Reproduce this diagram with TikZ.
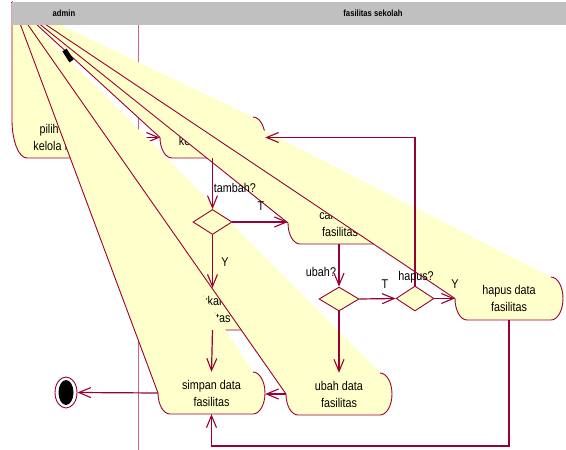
\documentclass[tikz,border=0pt]{standalone}
\usepackage{fontspec}
\setmainfont{Liberation Sans}
\newfontfamily\rosefont[FakeStretch=0.85]{Liberation Sans}
\usetikzlibrary{arrows.meta,shapes.geometric,calc}
\definecolor{rosered}{RGB}{153,0,51}
\definecolor{roseyel}{RGB}{255,255,204}
\definecolor{roselane}{RGB}{200,100,140}
\definecolor{rosehead}{RGB}{192,192,192}
\tikzset{
  actfill/.style={fill=roseyel},
  actline/.style={draw=rosered, line width=0.9pt, line join=round},
  acttext/.style={inner sep=0pt, align=center, font=\rosefont\fontsize{12.7}{17}\selectfont, text=black},
  flow/.style={draw=rosered, line width=1.2pt, -{Straight Barb[length=12pt,width=10pt,line width=1.1pt]}},
  dec/.style={diamond, draw=rosered, fill=roseyel, line width=0.9pt, inner sep=0pt, minimum width=39pt, minimum height=25pt},
  lbl/.style={inner sep=0pt, font=\rosefont\fontsize{12.7}{15}\selectfont, text=black},
  lanehd/.style={inner sep=0pt, font=\rosefont\bfseries\fontsize{9}{10}\selectfont},
}
% #1 name, #2 x1, #3 y1, #4 x2, #5 y2, #6 left arc ry, #7 left arc rx, #8 text
\newcommand{\rosact}[8]{%
  \pgfmathsetmacro{\rYm}{(#3+#5)/2}%
  \pgfmathsetmacro{\rRy}{(#5-#3)/2}%
  \pgfmathsetmacro{\rXa}{#4-12}%
  \pgfmathsetmacro{\rXb}{#2+#7}%
  \pgfmathsetmacro{\rYl}{#5-#6}%
  \fill[actfill] (apex) -- (\rXa,#3) .. controls (\rXa+6.6,#3) and (#4,\rYm-0.552*\rRy) .. (#4,\rYm) .. controls (#4,\rYm+0.552*\rRy) and (\rXa+6.6,#5) .. (\rXa,#5) -- (\rXb,#5) .. controls (\rXb-0.552*#7,#5) and (#2,\rYl+0.552*#6) .. (#2,\rYl) -- cycle;
  \draw[actline] (apex) -- (#2,\rYl) .. controls (#2,\rYl+0.552*#6) and (\rXb-0.552*#7,#5) .. (\rXb,#5) -- (\rXa,#5) .. controls (\rXa+6.6,#5) and (#4,\rYm+0.552*\rRy) .. (#4,\rYm) .. controls (#4,\rYm-0.552*\rRy) and (\rXa+6.6,#3) .. (\rXa,#3);
  \node[acttext, minimum width={#4-#2}, minimum height={#5-#3}] (#1) at ({(#2+#4)/2},\rYm) {#8};
}
\begin{document}
\begin{tikzpicture}[x=1pt,y=-1pt]
\useasboundingbox (0,0) rectangle (566,450);
\coordinate (apex) at (12,2);
% swimlane divider
\draw[roselane, line width=1pt] (138,25) -- (138,450);
% activities (drawn in order; later wedges cover earlier ones)
\rosact{A}{12}{117}{122}{158}{38}{15}{\makebox[55pt][l]{pilih}\\kelola fasilitas}
\rosact{B}{160}{117}{265}{158}{20.5}{12}{\mbox{}\\kelola fasilitas}
\draw[flow] (A.east) -- (B.west);
\rosact{C}{288}{202}{392}{244}{21}{12}{cari data\\fasilitas}
\rosact{D}{160}{288}{265}{330}{21}{12}{masukkan data\\fasilitas}
\rosact{E}{158}{372}{265}{414}{21}{12}{simpan data\\fasilitas}
\rosact{F}{286}{373}{392}{415}{21}{12}{ubah data\\fasilitas}
\rosact{G}{455}{277}{563}{320}{21.5}{12}{hapus data\\fasilitas}
% start state (distorted)
\coordinate (start) at (68,55.5);
\draw[line width=5pt, black] ($(start)+(-3.5,-5.5)$) -- ($(start)+(3.5,5.5)$);
% decisions
\node[dec] (tam) at (212.5,222) {};
\node[dec, minimum width=40pt, minimum height=24pt] (ub) at (339,299) {};
\node[dec, minimum width=38pt] (hp) at (415,298.5) {};
% end state
\node[ellipse, draw=rosered, fill=white, line width=0.9pt, inner sep=0pt, minimum width=22pt, minimum height=31pt] (end) at (66,392.5) {};
\fill[black] (end.center) ellipse [x radius=7.5, y radius=12.5];
% transitions
\draw[flow] (B.south -| tam.north) -- (tam.north);
\draw[flow] (tam.east) -- (tam.east -| C.west);
\draw[flow] (tam.south) -- (D.north);
\draw[flow] (D.south) -- (E.north);
\draw[flow] (C.south -| ub.north) -- (ub.north);
\draw[flow] (ub.east) -- (hp.west);
\draw[flow] (ub.south) -- (ub.south |- F.north);
\draw[flow] (hp.east) -- (hp.east -| G.west);
\draw[flow] (hp.north) |- (B.east);
\draw[flow] (F.west) -- (F.west -| E.east);
\coordinate (gbot) at (300,446);
\draw[flow] (G.south) |- (gbot) -| (E.south);
\draw[flow] (E.west) -- (end.east);
% guard labels
\node[lbl] (lt) at (235,188) {tambah?};
\node[lbl] (lT1) at (261,206) {T};
\node[lbl] (lY1) at (225,262) {Y};
\node[lbl] (lu) at (321,272) {ubah?};
\node[lbl] (lT2) at (385,284) {T};
\node[lbl] (lh) at (416,277) {hapus?};
\node[lbl] (lY2) at (455,284) {Y};
% header
\fill[rosehead] (12,2) rectangle (566,25);
\node[lanehd] (hadmin) at (64,13.5) {admin};
\node[lanehd] (hfas) at (373,13.5) {fasilitas sekolah};
\end{tikzpicture}
\end{document}
